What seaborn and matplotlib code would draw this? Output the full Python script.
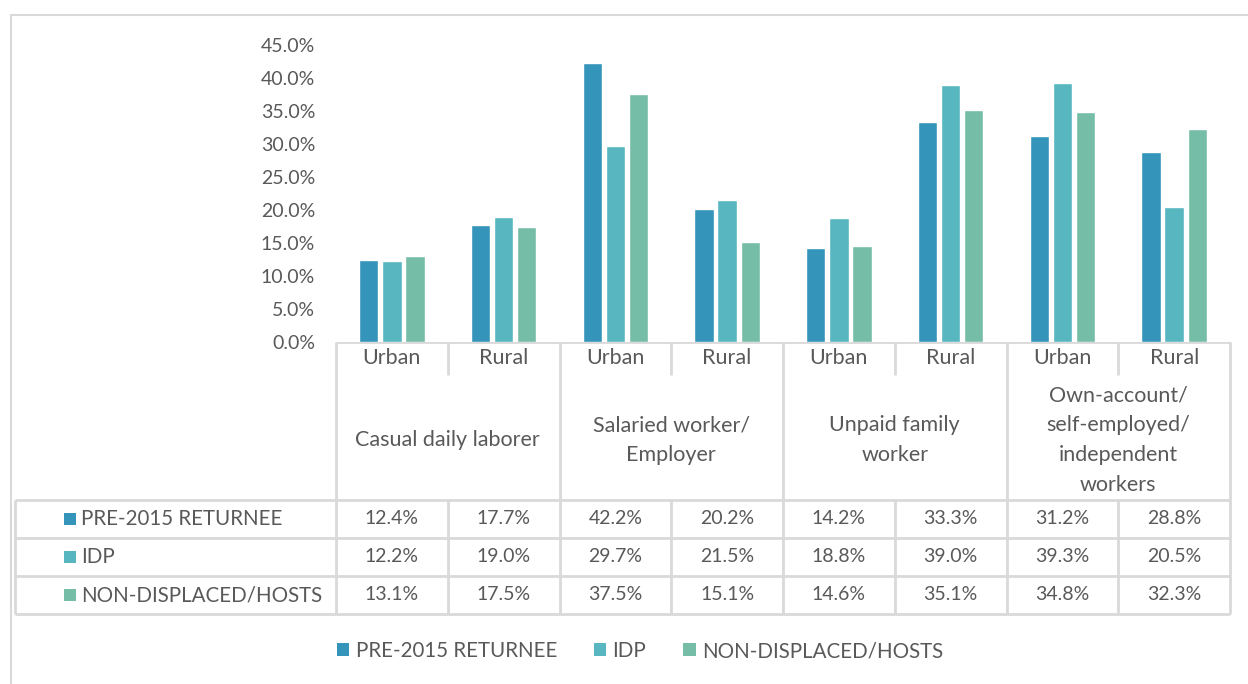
import pandas as pd
import numpy as np
import matplotlib.pyplot as plt
import seaborn as sns
from matplotlib.patches import Patch, Rectangle

# Data
occupations = ["Casual daily laborer", "Salaried worker/\nEmployer",
               "Unpaid family\nworker",
               "Own-account/\nself-employed/\nindependent\nworkers"]
settings = ["Urban", "Rural"]
groups = ["PRE-2015 RETURNEE", "IDP", "NON-DISPLACED/HOSTS"]
returnee = [12.4, 17.7, 42.2, 20.2, 14.2, 33.3, 31.2, 28.8]
idp = [12.2, 19.0, 29.7, 21.5, 18.8, 39.0, 39.3, 20.5]
hosts = [13.1, 17.5, 37.5, 15.1, 14.6, 35.1, 34.8, 32.3]
yticks = [0, 5, 10, 15, 20, 25, 30, 35, 40, 45]

colors = ["#3494BA", "#58B6C0", "#75BDA7"]
text_c = "#595959"
line_c = "#D9D9D9"

sns.set_theme(style="white")
plt.rcParams["font.family"] = ["Lato", "DejaVu Sans"]
FS_TXT = 15.5   # words
FS_ROW = 14.8   # row / legend labels
FS_NUM = 14     # numbers

cols = [f"{o}|{s}" for o in occupations for s in settings]
rows = []
for g, vals in zip(groups, [returnee, idp, hosts]):
    for c, v in zip(cols, vals):
        rows.append({"col": c, "group": g, "value": v})
df = pd.DataFrame(rows)

W, H = 1248, 684
fig = plt.figure(figsize=(W / 100, H / 100), dpi=100)

# pixel layout
x0, x1 = 336, 1230
y_top, y_base = 45, 342
colw = (x1 - x0) / len(cols)

ax = fig.add_axes([x0 / W, 1 - y_base / H, (x1 - x0) / W, (y_base - y_top) / H])
sns.barplot(data=df, x="col", y="value", hue="group", order=cols, hue_order=groups,
            palette=colors, saturation=1, width=0.62, gap=0.16, legend=False, ax=ax)
ax.set_ylim(0, 45)
ax.set_xlim(-0.5, len(cols) - 0.5)
ax.set_yticks(yticks)
ax.set_yticklabels([f"{t:.1f}%" for t in yticks], fontsize=FS_NUM, color=text_c)
ax.tick_params(axis="y", length=0, pad=15)
ax.set_xticks([])
ax.set_xlabel("")
ax.set_ylabel("")
for s in ax.spines.values():
    s.set_visible(False)

# overlay for table in pixel coords
tab = fig.add_axes([0, 0, 1, 1], zorder=-1)
tab.set_xlim(0, W)
tab.set_ylim(H, 0)
tab.axis("off")

def hline(y, xa, xb, lw=2):
    tab.plot([xa, xb], [y, y], color=line_c, lw=lw, solid_capstyle="butt")

def vline(x, ya, yb, lw=2):
    tab.plot([x, x], [ya, yb], color=line_c, lw=lw, solid_capstyle="butt")

# outer frame
hline(14.5, 10, W, lw=1.5)
vline(11, 14, H, lw=1.5)

row_h = 38
y_hdr = 375
y_data = 500
tab_left = 15
hline(y_base, x0, x1)
for i in range(4):
    hline(y_data + i * row_h, tab_left, x1)
vline(tab_left, y_data, y_data + 3 * row_h)
for k in range(len(cols) + 1):
    x = x0 + k * colw
    if k % 2 == 0:
        vline(x, y_base, y_data + 3 * row_h)
    else:
        vline(x, y_base, y_hdr)
        vline(x, y_data, y_data + 3 * row_h)

# Urban / Rural labels
for k, c in enumerate(cols):
    tab.text(x0 + (k + 0.5) * colw, 358, c.split("|")[1], ha="center", va="center",
             fontsize=FS_TXT, color=text_c)

# occupation labels
for j, o in enumerate(occupations):
    lines = o.split("\n")
    xc = x0 + (2 * j + 1) * colw
    for i, ln in enumerate(lines):
        yc = 440 + (i - (len(lines) - 1) / 2) * 30
        tab.text(xc, yc, ln, ha="center", va="center", fontsize=FS_TXT, color=text_c)

# data rows
for r, (g, vals) in enumerate(zip(groups, [returnee, idp, hosts])):
    yc = y_data + (r + 0.5) * row_h
    tab.add_patch(Rectangle((64, yc - 6), 12, 12, color=colors[r], lw=0))
    tab.text(81, yc, g, ha="left", va="center", fontsize=FS_ROW, color=text_c)
    for k, v in enumerate(vals):
        tab.text(x0 + (k + 0.5) * colw, yc, f"{v:.1f}%", ha="center", va="center",
                 fontsize=FS_NUM, color=text_c)

# legend
handles = [Patch(facecolor=c, edgecolor="none") for c in colors]
leg = fig.legend(handles, groups, loc="center", bbox_to_anchor=(640 / W, 1 - 651 / H),
                 ncol=3, frameon=False, fontsize=FS_ROW, handlelength=0.6, handleheight=0.6,
                 handletextpad=0.3, columnspacing=1.8, labelcolor=text_c)

fig.savefig("out.png", dpi=100, facecolor="white")
